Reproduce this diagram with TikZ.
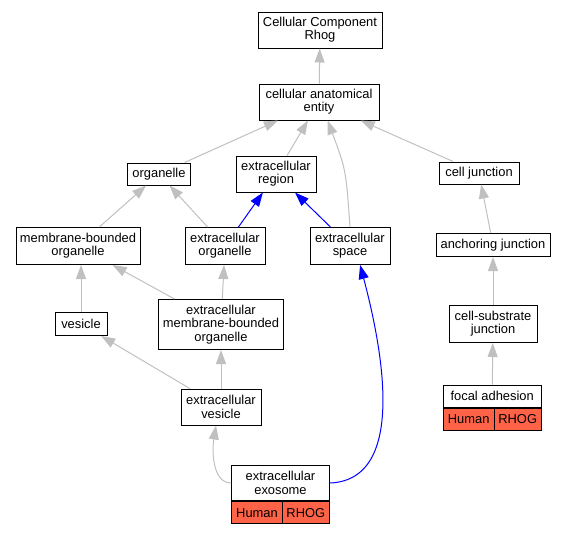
\documentclass[tikz,border=0pt]{standalone}
\usepackage{fontspec}
\setmainfont{Liberation Sans}
\usetikzlibrary{arrows.meta}
\usetikzlibrary{positioning}
\definecolor{tomato}{RGB}{255,99,71}
\definecolor{isagray}{RGB}{192,192,192}
\tikzset{term/.style = {draw, line width = 1, fill = white, align = center, inner sep = 0, font = \fontsize{12.9}{13.3}\selectfont}}
\tikzset{annot/.style = {term, fill = tomato, minimum height = 22}}
\tikzset{isa/.style = {draw = isagray, line width = 1, -{Triangle[length = 14, width = 10]}}}
\tikzset{partof/.style = {isa, draw = blue}}

\begin{document}
\begin{tikzpicture}[x = 1pt, y = -1pt]
    \useasboundingbox (0, 0) rectangle (567, 533);
    \node [term, minimum width = 124, minimum height = 36] (crh) at (320, 30) {Cellular Component\\Rhog};
    \node [term, minimum width = 120, minimum height = 36] (entity) at (319, 102) {cellular anatomical\\entity};
    \node [term, minimum width = 63, minimum height = 22] (organelle) at (159, 174) {organelle};
    \node [term, minimum width = 80, minimum height = 36] (region) at (276, 174) {extracellular\\region};
    \node [term, minimum width = 80, minimum height = 22] (celljunction) at (479, 173) {cell junction};
    \node [term, minimum width = 124, minimum height = 37] (mbo) at (78, 246) {membrane-bounded\\organelle};
    \node [term, minimum width = 80, minimum height = 37] (exorganelle) at (225, 246) {extracellular\\organelle};
    \node [term, minimum width = 80, minimum height = 37] (space) at (350, 246) {extracellular\\space};
    \node [term, minimum width = 114, minimum height = 23] (anchoring) at (493, 245) {anchoring junction};
    \node [term, minimum width = 52, minimum height = 23] (vesicle) at (81, 324) {vesicle};
    \node [term, minimum width = 125, minimum height = 50] (exmbo) at (221, 324.5) {extracellular\\membrane-bounded\\organelle};
    \node [term, minimum width = 88, minimum height = 37] (substrate) at (493, 324) {cell-substrate\\junction};
    \node [term, minimum width = 80, minimum height = 36] (exvesicle) at (221, 407) {extracellular\\vesicle};
    \node [term, minimum width = 98, minimum height = 22] (focal) at (492.2, 396) {focal adhesion};
    \node [annot, minimum width = 51, anchor = north west] (focalHuman) at (focal.south west) {Human};
    \node [annot, minimum width = 47, anchor = north east] (focalRhog) at (focal.south east) {RHOG};
    \node [term, minimum width = 97.6, minimum height = 35.4] (exosome) at (280.5, 483) {extracellular\\exosome};
    \node [annot, minimum width = 50.6, anchor = north west] (exosomeHuman) at (exosome.south west) {Human};
    \node [annot, minimum width = 47, anchor = north east] (exosomeRhog) at (exosome.south east) {RHOG};

    \foreach \a/\b in {entity/crh, organelle/entity, region/entity, celljunction/entity,
                       mbo/organelle, exorganelle/organelle, anchoring/celljunction,
                       substrate/anchoring, focal/substrate, exmbo/mbo, exmbo/exorganelle,
                       exvesicle/vesicle, exvesicle/exmbo}{
      \draw [isa] (\a) -- (\b);
    }
    \draw [isa] (vesicle.north) -- (vesicle.north |- mbo.south);
    \draw [isa] (space.north) .. controls (346, 170) .. (entity.-65);
    \draw [isa] (exosome.west) .. controls (212, 483) and (212, 450) .. (exvesicle.-105);
    \draw [partof] (exorganelle) -- (region);
    \draw [partof] (space) -- (region);
    \draw [partof] (exosome.east) .. controls (410, 480) and (380, 340) .. (space.-62);
  \end{tikzpicture}
\end{document}
